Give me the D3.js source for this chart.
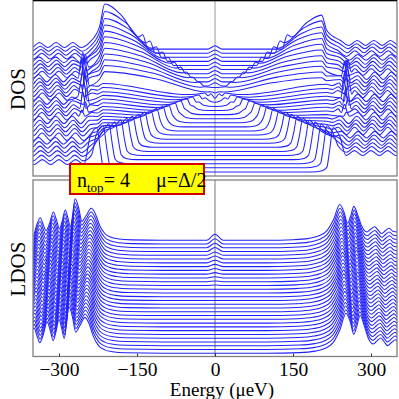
<!DOCTYPE html>
<html><head><meta charset="utf-8">
<script src="https://cdn.jsdelivr.net/npm/d3@7"></script>
<style>html,body{margin:0;padding:0;background:#fff;}svg{display:block;}</style>
</head><body>
<script>
// ---------- DATA ----------
// x tick labels
const xTicks = [-300, -150, 0, 150, 300];
const xTickLabels = ["\u2212300", "\u2212150", "0", "150", "300"];

// TOP panel (DOS), curve 0 = bottom ... 30 = top
// gap edge (i<=18) / coherence cusp (i>=19), µeV
const dosEdge = [222,210,199,187,176,164,153,141,130,118,107,95,84,72,61,49,38,26,15, 8,20,31,43,55,66,78,90,101,113,125,139];
// height at edge / cusp (units of one curve offset)
const dosEdgeH = [10.8,10.3,9.7,9.2,8.7,8.1,7.6,7.1,6.6,6.0,5.5,5.0,4.4,3.9,3.4,2.9,2.3,1.8,1.3, 0.6,0.8,1.0,1.2,1.4,1.6,1.8,2.0,2.3,2.6,3.0,3.5];
// hump near -212 / +205 µeV
const dosHumpL = [6.8,6.6,6.5,6.2,5.9,5.6,5.3,5.0,4.8,4.6,4.4,4.2,4.0,3.9,3.8,3.7,3.6,3.6,3.6, 5.5,6.0,6.4,6.8,7.2,7.6,8.0,8.4,8.9,9.5,10.2,11.0];
const dosHumpR = [6.0,5.8,5.6,5.4,5.2,5.0,4.8,4.6,4.4,4.2,4.0,3.9,3.8,3.7,3.6,3.5,3.4,3.4,3.4, 4.0,4.4,4.8,5.1,5.4,5.8,6.2,6.6,7.0,7.4,7.9,8.3];
// outer levels at |E| > 235 µeV
const dosOutL = [2.4,2.4,2.5,2.5,2.6,2.6,2.6,2.7,2.7,2.7,2.7,2.6,2.6,2.5,2.5,2.4,2.4,2.3,2.2,2.1,2.0,1.9,1.8,1.7,1.6,1.5,1.4,1.3,1.2,1.1,1.0];
const dosOutR = [4.6,4.5,4.4,4.3,4.2,4.1,4.0,3.9,3.8,3.7,3.6,3.5,3.4,3.3,3.2,3.1,3.0,2.9,2.8,2.7,2.6,2.5,2.4,2.3,2.2,2.1,2.0,1.9,1.8,1.7,1.5];
// sharp peaks near -252 / +253 µeV: heights and positions (|E|, µeV)
const dosSpikeL = [0,0,0,0,0,0,0,0,0,0,0,1.5,2.5,4,3.5,4.5,3,5,4,4.5,3.5,5,4.5,4.5,3,1.5,0,0,0,0,0];
const dosSpikeLPos = [252,252,252,252,252,252,252,252,252,252,252,256,249,254,247,252,258,250,255,248,253,257,251,254,249,252,252,252,252,252,252];
const dosSpikeR = [0,0,0,0,0,0,0,0,0,0,1,2,3,4,3.5,4.5,3.5,4.5,4,3.5,4,3.5,3,2,1,0,0,0,0,0,0];
const dosSpikeRPos = [253,253,253,253,253,253,253,253,253,253,253,249,256,251,254,248,257,252,250,255,253,249,256,252,254,253,253,253,253,253,253];
// wiggle amplitude and wiggle shift (µeV) in the outer region
const dosWig = [0.6,0.7,0.7,0.8,0.8,0.8,0.9,0.9,0.9,0.9,0.9,0.9,0.9,0.9,0.9,0.9,0.9,0.9,0.9,0.9,0.9,0.9,0.8,0.8,0.8,0.8,0.7,0.7,0.7,0.6,0.6];
const dosWigShift = [0,3,6,9,12,15,1,4,7,10,13,2,5,8,11,14,0,3,6,9,12,15,1,4,7,10,13,2,5,8,11];
// zero-energy peak
const dosZero = [0,0,0,0,0,0,0,0,0,0,0,0,0,0,0,0,0,0,0, 0.3,0.6,0.8,0.8,0.8,0.8,0.8,0.8,0.8,0.8,0.8,0.8];
const oscE = [236,252,268,284,300,316,332,348,364,380];

// BOTTOM panel (LDOS): template of one curve (µeV, units above baseline)
const ldosE = [-380,-370,-360,-350,-343,-336,-330,-325,-318,-311,-305,-299,-294,-288,-283,-278,-274,-269,-262,-256,-248,-238,-230,-222,-212,-200,-185,-160,-100,100,150,180,200,215,228,240,248,255,261,267,275,283,292,300,307,314,320,328,335,342,350,360,370,380];
const ldosV = [2.0,2.5,1.5,1.0,4.0,6.0,4.0,2.5,4.5,7.5,5.5,3.0,5.0,8.0,6.0,3.5,6.5,11.0,8.5,5.0,6.5,8.5,7.0,4.0,1.8,0.8,0.35,0.1,0,0,0.15,0.5,1.2,2.5,5.5,9.5,7.5,4.5,6.5,9.0,6.5,3.5,2.2,3.0,3.6,2.6,1.8,2.6,3.2,2.4,2.2,2.5,2.5,2.5];
// per curve (0 = bottom ... 30 = top): outward shift (µeV), amplitude factor, zero peak
const ldosShift = [12,11.6,11.2,10.8,10.4,10,9.6,9.2,8.8,8.4,8,7.6,7.2,6.8,6.4,6,5.6,5.2,4.8,4.4,4,3.6,3.2,2.8,2.4,2,1.6,1.2,0.8,0.4,0];
const ldosAmp = [1.12,1.11,1.11,1.1,1.1,1.09,1.09,1.08,1.08,1.07,1.07,1.06,1.06,1.05,1.05,1.04,1.04,1.03,1.03,1.02,1.02,1.01,1.01,1.0,1.0,1.0,1.0,1.0,1.0,1.0,1.0];
const ldosZero = [0,0,0,0,0,0,0,0,0,0,0,0,0,0,0,0,0,0,0.1,0.2,0.3,0.4,0.5,0.6,0.7,0.8,0.9,1.1,1.2,1.4,1.6];

// ---------- CHART ----------
const W = 399, H = 399;
const svg = d3.select("body").append("svg").attr("width", W).attr("height", H);
const L = 33, R = 397;
const x = d3.scaleLinear().domain([-350, 350]).range([L, R]);
const yTop = d3.scaleLinear().domain([0, 43]).range([176, 0]);
const yBot = d3.scaleLinear().domain([0, 47]).range([357, 180]);
const blue = "#2222ff";

const defs = svg.append("defs");
defs.append("clipPath").attr("id", "cTop").append("rect").attr("x", L).attr("y", 0).attr("width", R - L).attr("height", 176);
defs.append("clipPath").attr("id", "cBot").append("rect").attr("x", L).attr("y", 180).attr("width", R - L).attr("height", 177);

function topSide(i, side) {
  const Eg = dosEdge[i], h = dosEdgeH[i], up = i >= 19;
  const hump = side < 0 ? dosHumpL[i] : dosHumpR[i];
  const hE = side < 0 ? 212 : 205;
  const out = side < 0 ? dosOutL[i] : dosOutR[i];
  const sp = side < 0 ? dosSpikeL[i] : dosSpikeR[i];
  const spE = side < 0 ? dosSpikeLPos[i] : dosSpikeRPos[i];
  const p = [];
  if (!up) {
    p.push([Eg - 36, 0], [Eg - 16, 0.3], [Eg - 7, 1.1], [Eg - 2, 0.45 * h], [Eg + 5, h], [Eg + 18, 0.8 * h]);
    if (Eg + 40 < 195) p.push([Eg + 40, 0.7 * h]);
    if (Eg + 18 < 200) p.push([215, hump], [226, 0.5 * (hump + out)]);
  } else {
    if (Eg - 10 > 16) p.push([14, 0], [Eg - 10, 0]);
    p.push([Eg, h], [Eg + 8, 0.85 * h]);
    const mid = (Eg + 8 + hE) / 2;
    p.push([mid, 0.85 * h + 0.65 * (hump - 0.85 * h)], [hE, hump], [hE + 10, 0.45 * hump + 0.55 * out]);
  }
  const last = p[p.length - 1][0];
  oscE.forEach((e, j) => {
    const ee = e + dosWigShift[i] * 0.5;
    if (ee <= last + 8) return;
    if (sp > 0 && Math.abs(ee - spE) < 11) return;
    p.push([ee, out + dosWig[i] * (j % 2 === 0 ? 1 : -1)]);
  });
  if (sp > 0 && spE - 7 > last + 4) p.push([spE - 6, out], [spE, out + sp], [spE + 6, out]);
  p.sort((a, b) => a[0] - b[0]);
  const q = [];
  p.forEach(d => { if (d[0] > 0.5 && (!q.length || d[0] > q[q.length - 1][0] + 0.5)) q.push(d); });
  return q.map(d => [side * d[0], d[1]]);
}
function topCurve(i) {
  const left = topSide(i, -1).reverse();
  const right = topSide(i, 1);
  const c = [[0, i >= 19 ? dosZero[i] : 0]];
  return left.concat(c, right).map(d => [d[0], d[1] + i + 1]);
}
function botCurve(k) {
  const pts = ldosE.map((e, j) => {
    let ee = e, v = ldosV[j];
    if (Math.abs(e) >= 150) { ee = e + Math.sign(e) * ldosShift[k]; v = v * ldosAmp[k]; }
    return [ee, v];
  });
  const z = ldosZero[k];
  const idx = pts.findIndex(d => d[0] > 0);
  const mid = z > 0 ? [[-16, 0], [0, z], [16, 0]] : [[0, 0]];
  const all = pts.slice(0, idx).concat(mid, pts.slice(idx));
  return all.map(d => [d[0], d[1] + k + 1]);
}

const lineTop = d3.line().x(d => x(d[0])).y(d => yTop(d[1])).curve(d3.curveMonotoneX);
const lineBot = d3.line().x(d => x(d[0])).y(d => yBot(d[1])).curve(d3.curveMonotoneX);

// zero lines
svg.append("line").attr("x1", x(0)).attr("x2", x(0)).attr("y1", 0).attr("y2", 176).attr("stroke", "#aaaaaa").attr("stroke-width", 1.2);
svg.append("line").attr("x1", x(0)).attr("x2", x(0)).attr("y1", 180).attr("y2", 357).attr("stroke", "#555555").attr("stroke-width", 0.8);

const gTop = svg.append("g").attr("clip-path", "url(#cTop)");
d3.range(dosEdge.length).forEach(i => {
  gTop.append("path").attr("d", lineTop(topCurve(i))).attr("fill", "none").attr("stroke", blue).attr("stroke-width", 1.05);
});
const gBot = svg.append("g").attr("clip-path", "url(#cBot)");
d3.range(ldosShift.length).forEach(k => {
  gBot.append("path").attr("d", lineBot(botCurve(k))).attr("fill", "none").attr("stroke", blue).attr("stroke-width", 1.05);
});

// frames
svg.append("rect").attr("x", L).attr("y", 0.5).attr("width", R - L).attr("height", 175.5).attr("fill", "none").attr("stroke", "#808080").attr("stroke-width", 1.3);
svg.append("line").attr("x1", L).attr("x2", R).attr("y1", 0.6).attr("y2", 0.6).attr("stroke", "#000").attr("stroke-width", 1.3);
svg.append("rect").attr("x", L).attr("y", 180).attr("width", R - L).attr("height", 176.5).attr("fill", "none").attr("stroke", "#808080").attr("stroke-width", 1.3);

// x axis (bottom panel)
const xAxis = d3.axisBottom(x).tickValues(xTicks).tickSize(-3).tickFormat((d, j) => xTickLabels[j]);
const ax = svg.append("g").attr("transform", "translate(0,356.5)").call(xAxis);
ax.select(".domain").remove();
ax.selectAll(".tick line").attr("stroke", "#333");
ax.selectAll(".tick text").attr("font-family", "'Liberation Serif', 'DejaVu Serif', serif").attr("font-size", 19.5).attr("fill", "#000").attr("y", 0).attr("dy", 0).attr("transform", "translate(0,19)");

svg.append("text").attr("x", 222).attr("y", 396).attr("text-anchor", "middle")
  .attr("font-family", "'Liberation Serif', serif").attr("font-size", 19).text("Energy (\u03bceV)");
svg.append("text").attr("transform", "translate(25,89) rotate(-90)").attr("text-anchor", "middle")
  .attr("font-family", "'Liberation Serif', serif").attr("font-size", 21).text("DOS");
svg.append("text").attr("transform", "translate(25,269) rotate(-90)").attr("text-anchor", "middle")
  .attr("font-family", "'Liberation Serif', serif").attr("font-size", 21).text("LDOS");

// legend box
svg.append("rect").attr("x", 70).attr("y", 164).attr("width", 134).attr("height", 30)
  .attr("fill", "#ffff00").attr("stroke", "#d40000").attr("stroke-width", 2);
const t = svg.append("text").attr("x", 77).attr("y", 187).attr("font-family", "'Liberation Serif', serif").attr("font-size", 20);
t.append("tspan").text("n");
t.append("tspan").attr("font-size", 13).attr("dy", 5).text("top");
t.append("tspan").attr("dy", -5).text("= 4");
svg.append("text").attr("x", 156).attr("y", 187).attr("font-family", "'Liberation Serif', serif").attr("font-size", 20).text("\u03bc=\u0394/2");
</script>
</body></html>
